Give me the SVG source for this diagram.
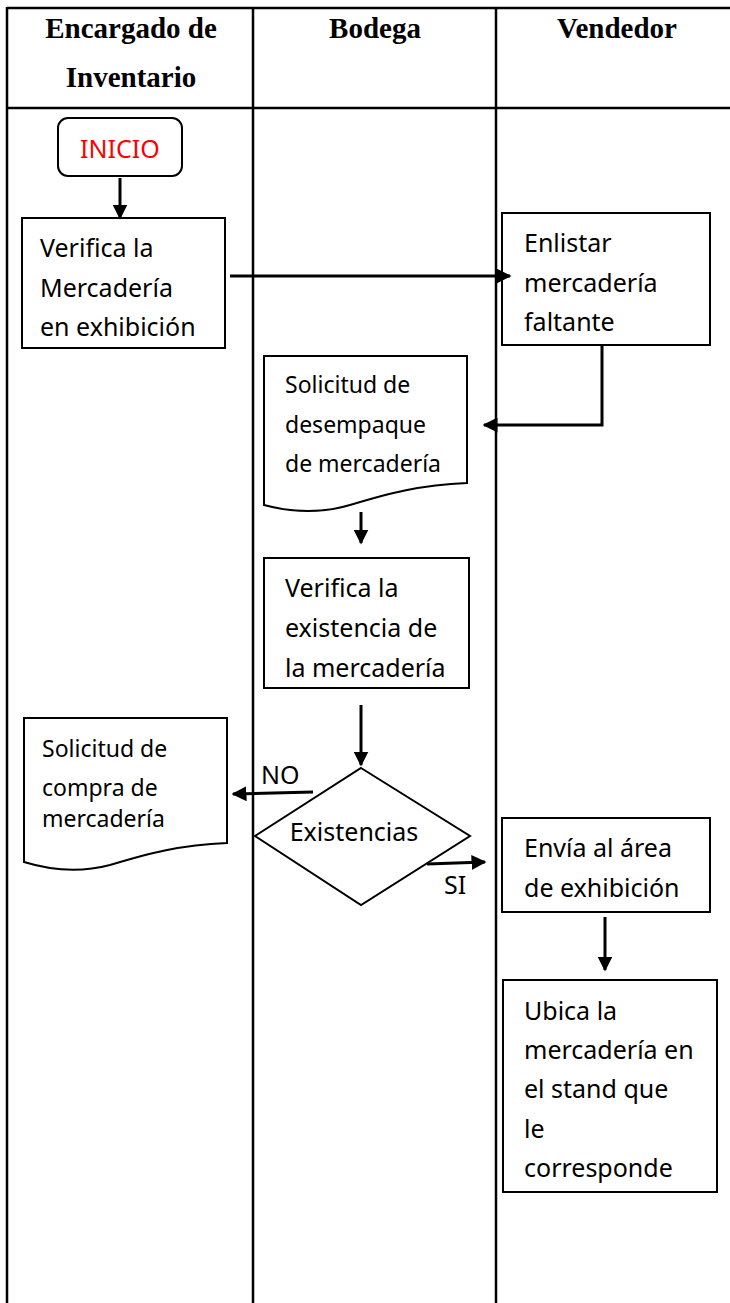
<svg xmlns="http://www.w3.org/2000/svg" width="730" height="1303" viewBox="0 0 730 1303">
<defs>
<marker id="ah" viewBox="0 0 10 10" refX="9" refY="5" markerWidth="5" markerHeight="5" orient="auto" markerUnits="strokeWidth">
<path d="M0,0 L10,5 L0,10 z" fill="#000"/>
</marker>
<style>
.tbl{stroke:#000;stroke-width:2.5;fill:none}
.hd{font-family:"Liberation Serif",serif;font-weight:bold;font-size:29px;text-anchor:middle;fill:#000}
.box{fill:#fff;stroke:#000;stroke-width:2}
.t{font-family:"Noto Sans","Open Sans",sans-serif;font-size:25px;fill:#000}
.ts{font-family:"Noto Sans","Open Sans",sans-serif;font-size:23px;fill:#000}
.c{stroke:#000;stroke-width:3;fill:none;marker-end:url(#ah)}
</style>
</defs>
<rect width="730" height="1303" fill="#fff"/>
<g id="table">
<line class="tbl" x1="7" y1="8" x2="730" y2="8"/>
<line class="tbl" x1="7" y1="108" x2="730" y2="108"/>
<line class="tbl" x1="7" y1="7" x2="7" y2="1303"/>
<line class="tbl" x1="253" y1="7" x2="253" y2="1303"/>
<line class="tbl" x1="496" y1="7" x2="496" y2="1303"/>
<text class="hd" x="131" y="38">Encargado de</text>
<text class="hd" x="131" y="87">Inventario</text>
<text class="hd" x="375" y="38">Bodega</text>
<text class="hd" x="617" y="38">Vendedor</text>
</g>
<g id="inicio">
<rect class="box" x="58" y="118" width="124" height="58" rx="10"/>
<text x="120" y="158" text-anchor="middle" font-family="Noto Sans, Open Sans, sans-serif" font-size="25" fill="#f00">INICIO</text>
</g>
<g id="verifica-exhibicion">
<rect class="box" x="22" y="218" width="203" height="130"/>
<text class="t" x="40" y="257">Verifica la</text>
<text class="t" x="40" y="297">Mercadería</text>
<text class="t" x="40" y="336">en exhibición</text>
</g>
<g id="enlistar">
<rect class="box" x="502" y="213" width="208" height="132"/>
<text class="t" x="524" y="252">Enlistar</text>
<text class="t" x="524" y="292">mercadería</text>
<text class="t" x="524" y="331">faltante</text>
</g>
<g id="solicitud-desempaque">
<path class="box" d="M264,356 H467 V483 C420,485 390,493 350,505 C320,514 290,512 264,505 Z"/>
<text class="ts" x="285" y="393">Solicitud de</text>
<text class="ts" x="285" y="433">desempaque</text>
<text class="ts" x="285" y="472">de mercadería</text>
</g>
<g id="verifica-existencia">
<rect class="box" x="264" y="558" width="205" height="130"/>
<text class="t" x="285" y="597">Verifica la</text>
<text class="t" x="285" y="637">existencia de</text>
<text class="t" x="285" y="677">la mercadería</text>
</g>
<g id="existencias">
<polygon class="box" points="361,768 470,836 361,905 255,836"/>
<text class="t" x="354" y="841" text-anchor="middle">Existencias</text>
</g>
<g id="solicitud-compra">
<path class="box" d="M24,718 H227 V843 C180,845 150,853 110,865 C80,873 50,870 24,862 Z"/>
<text class="ts" x="42" y="757">Solicitud de</text>
<text class="ts" x="42" y="796">compra de</text>
<text class="ts" x="42" y="827">mercadería</text>
</g>
<g id="envia">
<rect class="box" x="502" y="818" width="208" height="94"/>
<text class="t" x="524" y="857">Envía al área</text>
<text class="t" x="524" y="897">de exhibición</text>
</g>
<g id="ubica">
<rect class="box" x="503" y="980" width="214" height="212"/>
<text class="t" x="524" y="1020">Ubica la</text>
<text class="t" x="524" y="1059">mercadería en</text>
<text class="t" x="524" y="1098">el stand que</text>
<text class="t" x="524" y="1138">le</text>
<text class="t" x="524" y="1177">corresponde</text>
</g>
<g id="connectors">
<line class="c" x1="120" y1="178" x2="120" y2="218"/>
<line class="c" x1="230" y1="276" x2="510" y2="276"/>
<polyline class="c" points="602,345 602,425 484,425"/>
<line class="c" x1="361" y1="512" x2="361" y2="543"/>
<line class="c" x1="361" y1="705" x2="361" y2="765"/>
<line class="c" x1="313" y1="792" x2="233" y2="794"/>
<line class="c" x1="427" y1="864" x2="485" y2="862"/>
<line class="c" x1="605" y1="917" x2="605" y2="970"/>
<text class="t" x="261" y="784">NO</text>
<text class="t" x="444" y="894">SI</text>
</g>
</svg>
